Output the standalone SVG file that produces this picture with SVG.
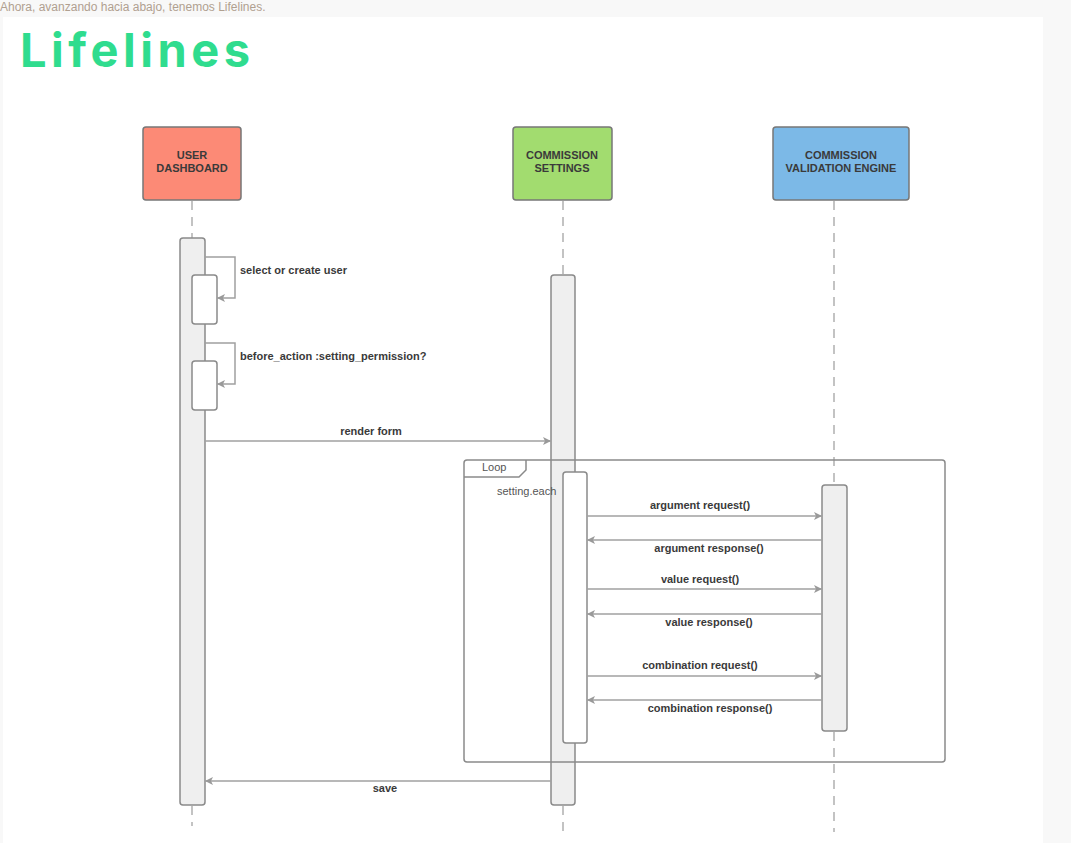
<svg xmlns="http://www.w3.org/2000/svg" width="1071" height="843" viewBox="0 0 1071 843">
  <defs>
    <marker id="arrow" viewBox="0 0 10 10" refX="10" refY="5" markerWidth="10" markerHeight="8" markerUnits="userSpaceOnUse" orient="auto">
      <path d="M0,0 L10,5 L0,10 L2.5,5 Z" fill="#999"/>
    </marker>
    <style>
      .head { stroke: #777; stroke-width: 1.5; }
      .head-text { font-family: "Liberation Sans", Arial, sans-serif; font-size: 11px; font-weight: bold; fill: #3a3a3a; text-anchor: middle; }
      .life { stroke: #b0b0b0; stroke-width: 1.5; stroke-dasharray: 9 7; fill: none; }
      .act { fill: #efefef; stroke: #8a8a8a; stroke-width: 1.5; }
      .act-inner { fill: #ffffff; stroke: #8a8a8a; stroke-width: 1.5; }
      .msg { stroke: #a0a0a0; stroke-width: 1.5; fill: none; marker-end: url(#arrow); }
      .lbl { font-family: "Liberation Sans", Arial, sans-serif; font-size: 11px; font-weight: bold; fill: #3a3a3a; }
      .mid { text-anchor: middle; }
      .frame { fill: none; stroke: #8a8a8a; stroke-width: 1.5; }
      .plain { font-family: "Liberation Sans", Arial, sans-serif; font-size: 11px; fill: #555; }
    </style>
  </defs>

  <!-- page background and content panel -->
  <rect x="0" y="0" width="1071" height="843" fill="#f8f8f8"/>
  <rect x="3" y="17" width="1040" height="826" fill="#ffffff"/>
  <text x="0" y="11" font-family="'Liberation Sans', Arial, sans-serif" font-size="12" fill="#b0a090">Ahora, avanzando hacia abajo, tenemos Lifelines.</text>

  <!-- heading -->
  <text x="20" y="67" font-family="Inter, 'Liberation Sans', sans-serif" font-size="47" font-weight="bold" letter-spacing="4.5" fill="#2fdc8e">Lifelines</text>

  <!-- lifeline dashes -->
  <g id="lifelines">
    <line class="life" x1="192" y1="201" x2="192" y2="238"/>
    <line class="life" x1="192" y1="806" x2="192" y2="826"/>
    <line class="life" x1="563" y1="201" x2="563" y2="275"/>
    <line class="life" x1="563" y1="806" x2="563" y2="832"/>
    <line class="life" x1="834" y1="201" x2="834" y2="485"/>
    <line class="life" x1="834" y1="732" x2="834" y2="832"/>
  </g>

  <!-- participants -->
  <g id="user-dashboard">
    <rect class="head" x="143" y="127" width="98" height="73" rx="3" fill="#fc8a76"/>
    <text class="head-text" x="192" y="159">USER</text>
    <text class="head-text" x="192" y="172">DASHBOARD</text>
  </g>
  <g id="commission-settings">
    <rect class="head" x="513" y="127" width="99" height="73" rx="3" fill="#a2dc6f"/>
    <text class="head-text" x="562" y="159">COMMISSION</text>
    <text class="head-text" x="562" y="172">SETTINGS</text>
  </g>
  <g id="validation-engine">
    <rect class="head" x="773" y="127" width="136" height="73" rx="3" fill="#7cb9e7"/>
    <text class="head-text" x="841" y="159">COMMISSION</text>
    <text class="head-text" x="841" y="172">VALIDATION ENGINE</text>
  </g>

  <!-- activation bars -->
  <g id="user-activation">
    <rect class="act" x="180" y="238" width="25" height="567" rx="3"/>
    <rect class="act-inner" x="192" y="275" width="25" height="49" rx="3"/>
    <rect class="act-inner" x="192" y="361" width="25" height="49" rx="3"/>
  </g>
  <g id="settings-activation">
    <rect class="act" x="551" y="275" width="24" height="530" rx="3"/>
  </g>

  <!-- loop fragment -->
  <g id="loop-frame">
    <rect class="frame" x="464" y="460" width="481" height="302" rx="3"/>
    <path class="frame" d="M464,477 L519,477 L526,470 L526,460" fill="#ffffff"/>
    <text class="plain" x="482" y="471">Loop</text>
    <text class="plain" x="497" y="495">setting.each</text>
  </g>

  <g id="settings-inner-activation">
    <rect class="act-inner" x="563" y="472" width="24" height="271" rx="3"/>
  </g>
  <g id="engine-activation">
    <rect class="act" x="822" y="485" width="25" height="246" rx="3"/>
  </g>

  <!-- messages -->
  <g id="connectors">
    <path class="msg" d="M205,257 L235,257 L235,298 L217,298"/>
    <path class="msg" d="M205,343 L235,343 L235,384 L217,384"/>
    <line class="msg" x1="205" y1="441" x2="551" y2="441"/>
    <line class="msg" x1="587" y1="516" x2="822" y2="516"/>
    <line class="msg" x1="822" y1="540" x2="587" y2="540"/>
    <line class="msg" x1="587" y1="589" x2="822" y2="589"/>
    <line class="msg" x1="822" y1="614" x2="587" y2="614"/>
    <line class="msg" x1="587" y1="676" x2="822" y2="676"/>
    <line class="msg" x1="822" y1="700" x2="587" y2="700"/>
    <line class="msg" x1="551" y1="781" x2="205" y2="781"/>
  </g>

  <!-- message labels -->
  <g id="labels">
    <text class="lbl" x="240" y="274">select or create user</text>
    <text class="lbl" x="240" y="360">before_action :setting_permission?</text>
    <text class="lbl mid" x="371" y="435">render form</text>
    <text class="lbl mid" x="700" y="509">argument request()</text>
    <text class="lbl mid" x="709" y="552">argument response()</text>
    <text class="lbl mid" x="700" y="583">value request()</text>
    <text class="lbl mid" x="709" y="626">value response()</text>
    <text class="lbl mid" x="700" y="669">combination request()</text>
    <text class="lbl mid" x="710" y="712">combination response()</text>
    <text class="lbl mid" x="385" y="792">save</text>
  </g>
</svg>
